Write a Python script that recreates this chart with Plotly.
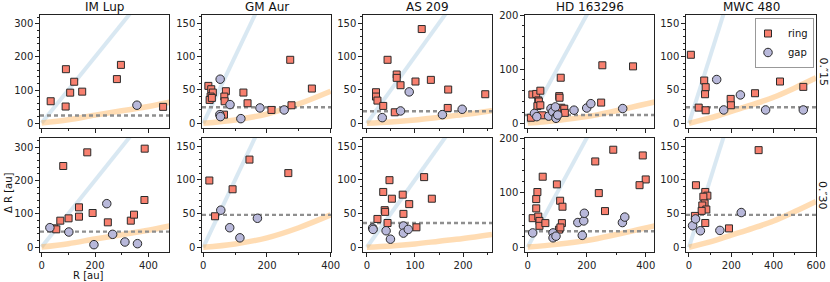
import plotly.graph_objects as go
from plotly.subplots import make_subplots

stars = ["IM Lup", "GM Aur", "AS 209", "HD 163296", "MWC 480"]
beam_labels = ["0.″15", "0.″30"]

# (R [au], Delta R [au])
imlup_015_ring = [(34, 66), (91, 163), (90, 50), (122, 125), (107, 92), (152, 95),
                  (282, 133), (297, 176), (455, 49)]
imlup_015_gap = [(357, 54)]
imlup_030_ring = [(81, 243), (171, 284), (386, 295), (70, 79), (101, 86), (140, 91),
                  (140, 119), (191, 102), (248, 74), (334, 79), (346, 97), (385, 141),
                  (47, 56), (55, 53)]
imlup_030_gap = [(31, 58), (102, 45), (244, 130), (266, 38), (196, 7), (312, 15), (359, 10)]

gmaur_015_ring = [(16, 56), (25, 51), (30, 46), (23, 40), (20, 35), (27, 38), (71, 48),
                  (66, 40), (67, 33), (65, 13), (126, 46), (139, 30), (273, 95),
                  (214, 20), (277, 27), (341, 52)]
gmaur_015_gap = [(53, 66), (52, 13), (54, 10), (84, 28), (118, 7), (178, 23), (254, 20)]
gmaur_030_ring = [(19, 99), (37, 46), (92, 86), (145, 130), (267, 110)]
gmaur_030_gap = [(55, 55), (83, 29), (115, 14), (170, 43)]

as209_015_ring = [(19, 46.5), (19, 40), (22, 34), (34, 26), (43, 95), (62, 73), (62, 68),
                  (70, 57), (58, 16.5), (101, 62.5), (114, 141), (133, 65), (169, 50.5),
                  (168, 23), (246, 43.5)]
as209_015_gap = [(32, 8.5), (70, 18.5), (88, 47), (157, 13), (198, 21)]
as209_030_ring = [(47, 99.5), (34, 82), (52, 72), (74.5, 78), (88, 64), (119, 104),
                  (135, 72), (37, 55), (38, 52.5), (76, 49.5), (22, 42), (43, 36), (103, 29.6)]
as209_030_gap = [(12, 28.6), (13, 26.5), (40, 24.5), (49, 12), (76, 31.6), (76, 21), (86, 26.5)]

hd_015_ring = [(11, 10), (16, 53), (29, 54), (43, 60), (36, 42), (38, 40), (33, 31.5),
               (43, 33), (49, 14.5), (112, 84), (107, 50), (108, 47), (114, 28.5),
               (124, 26.7), (126, 19), (249, 38), (253, 107), (357, 105)]
hd_015_gap = [(23, 18), (31, 12), (71, 13), (79, 27), (85, 21), (94, 30), (97, 12), (96, 9),
              (102, 15), (157, 24), (200, 28), (214, 36), (322, 27)]
hd_030_ring = [(290, 178.5), (229, 157), (390, 168), (400, 124), (379, 113.5), (241, 99),
               (262, 66), (51, 129), (99, 115), (110, 85), (118, 74), (33, 101), (29, 88),
               (29, 71), (17, 53), (36, 56), (40, 48), (40, 39), (60, 44), (116, 44),
               (106, 32), (111, 36)]
hd_030_gap = [(17, 26), (86, 26), (86, 17), (96, 20), (170, 45), (190, 48), (192, 62),
              (185, 21.5), (321, 45), (329, 55)]

mwc_015_ring = [(9, 102.5), (72, 64), (79, 54), (76, 43.5), (46, 23.5), (79, 19.5),
                (197, 36.5), (198, 27), (312, 45), (430, 62.5), (540, 54.5)]
mwc_015_gap = [(131, 65.5), (164, 20), (243, 42.5), (362, 20), (540, 20)]
mwc_030_ring = [(33, 92), (329, 144), (77, 82), (87, 76.5), (68, 75), (74, 65), (63, 62),
                (82, 56), (60, 54), (28, 46.5), (77, 36), (189, 28)]
mwc_030_gap = [(17, 32), (31, 42), (54, 24.5), (146, 25), (247, 51.5)]

# orange reference curve, read at a few radii
imlup_curve_R = [0, 100, 200, 300, 400, 480]
imlup_curve_dR = [0, 10, 24, 37, 50, 63]
gmaur_curve_R = [0, 100, 200, 300, 400]
gmaur_curve_dR = [0, 5, 14, 29, 48]
as209_curve_R = [0, 50, 100, 150, 200, 260]
as209_curve_dR = [0, 2, 5, 9, 13, 19]
hd_curve_R = [0, 100, 200, 300, 430]
hd_curve_dR = [0, 5, 12, 23, 39]
mwc_curve_R = [0, 100, 200, 300, 400, 500, 600]
mwc_curve_dR = [0, 8, 18, 28, 39, 53, 68]

# Delta R = R line
one_to_one = [0, 700]

# beam (resolution) level per star
res_015 = [23, 24, 18, 15, 24]
res_030 = [46, 48, 36, 29, 48]

ring_data = [[imlup_015_ring, gmaur_015_ring, as209_015_ring, hd_015_ring, mwc_015_ring],
             [imlup_030_ring, gmaur_030_ring, as209_030_ring, hd_030_ring, mwc_030_ring]]
gap_data = [[imlup_015_gap, gmaur_015_gap, as209_015_gap, hd_015_gap, mwc_015_gap],
            [imlup_030_gap, gmaur_030_gap, as209_030_gap, hd_030_gap, mwc_030_gap]]
curves = [(imlup_curve_R, imlup_curve_dR), (gmaur_curve_R, gmaur_curve_dR),
          (as209_curve_R, as209_curve_dR), (hd_curve_R, hd_curve_dR),
          (mwc_curve_R, mwc_curve_dR)]
res = [res_015, res_030]

# styling / layout
W, H = 830, 282
lefts = [40, 202, 363, 525, 686]
rights = [169, 331, 492, 654, 816]
tops = [15, 138]
bottoms = [128, 252]
xranges = [[-6, 477], [-4, 401], [-8, 260], [-9, 428], [-14, 600]]
yranges = [[-15, 327], [-7, 162], [-7, 162], [-9, 200], [-7, 162]]
xd = [200, 200, 100, 200, 200]
yd = [100, 50, 50, 100, 50]

FONT = "DejaVu Sans"
RING_COLOR = "#F8806F"
GAP_COLOR = "#B8B8DA"

fig = make_subplots(rows=2, cols=5)

first_ring = True
first_gap = True
for r in range(2):
    for c in range(5):
        row, col = r + 1, c + 1
        cr, cdr = curves[c]
        fig.add_trace(go.Scatter(x=one_to_one, y=one_to_one, mode="lines",
                                 line=dict(color="rgba(31,119,180,0.17)", width=4),
                                 showlegend=False, hoverinfo="skip"), row=row, col=col)
        fig.add_trace(go.Scatter(x=cr, y=cdr, mode="lines", line_shape="spline",
                                 line=dict(color="rgba(255,160,50,0.37)", width=5.5),
                                 showlegend=False, hoverinfo="skip"), row=row, col=col)
        fig.add_trace(go.Scatter(x=[xranges[c][0], xranges[c][1]], y=[res[r][c], res[r][c]],
                                 mode="lines",
                                 line=dict(color="#8f8f8f", width=2.4, dash="4px,3px"),
                                 showlegend=False, hoverinfo="skip"), row=row, col=col)
        rd = ring_data[r][c]
        fig.add_trace(go.Scatter(x=[p[0] for p in rd], y=[p[1] for p in rd], mode="markers",
                                 name="ring", legendgroup="ring", showlegend=first_ring,
                                 marker=dict(symbol="square", size=7, color=RING_COLOR,
                                             line=dict(color="#2a2a2a", width=1))),
                      row=row, col=col)
        first_ring = False
        gd = gap_data[r][c]
        fig.add_trace(go.Scatter(x=[p[0] for p in gd], y=[p[1] for p in gd], mode="markers",
                                 name="gap", legendgroup="gap", showlegend=first_gap,
                                 marker=dict(symbol="circle", size=8.5, color=GAP_COLOR,
                                             line=dict(color="#2a2a2a", width=1))),
                      row=row, col=col)
        first_gap = False

        idx = r * 5 + c + 1
        sfx = "" if idx == 1 else str(idx)
        fig.update_layout(**{
            "xaxis" + sfx: dict(
                domain=[lefts[c] / W, rights[c] / W], range=xranges[c], automargin=False,
                tickmode="linear", tick0=0, dtick=xd[c], showticklabels=(r == 1),
                ticks="outside", ticklen=3.5, tickwidth=1, tickcolor="#222",
                minor=dict(ticks="outside", ticklen=2, tickwidth=0.8, dtick=xd[c] / 2,
                           tick0=0, tickcolor="#222"),
                showline=True, linecolor="#222", linewidth=1.3, mirror=True,
                showgrid=False, zeroline=False,
                tickfont=dict(family=FONT, size=10, color="#222")),
            "yaxis" + sfx: dict(
                domain=[1 - bottoms[r] / H, 1 - tops[r] / H], range=yranges[c], automargin=False,
                tickmode="linear", tick0=0, dtick=yd[c],
                ticks="outside", ticklen=3.5, tickwidth=1, tickcolor="#222",
                minor=dict(ticks="outside", ticklen=2, tickwidth=0.8, dtick=yd[c] / 5,
                           tick0=0, tickcolor="#222"),
                showline=True, linecolor="#222", linewidth=1.3, mirror=True,
                showgrid=False, zeroline=False,
                tickfont=dict(family=FONT, size=10, color="#222")),
        })

annotations = []
for c, name in enumerate(stars):
    annotations.append(dict(text=name, x=(lefts[c] + rights[c]) / 2 / W, y=1 - 7.5 / H,
                            xref="paper", yref="paper", showarrow=False,
                            xanchor="center", yanchor="middle",
                            font=dict(family=FONT, size=12, color="#111")))
for r, lab in enumerate(beam_labels):
    annotations.append(dict(text=lab, x=823 / W, y=1 - ((tops[r] + bottoms[r]) / 2) / H,
                            xref="paper", yref="paper", showarrow=False, textangle=90,
                            xanchor="center", yanchor="middle",
                            font=dict(family=FONT, size=11, color="#111")))
annotations.append(dict(text="Δ R [au]", x=8 / W, y=1 - 193 / H, xref="paper", yref="paper",
                        showarrow=False, textangle=-90, xanchor="center", yanchor="middle",
                        font=dict(family=FONT, size=10, color="#111")))
annotations.append(dict(text="R [au]", x=88 / W, y=1 - 275 / H, xref="paper", yref="paper",
                        showarrow=False, xanchor="center", yanchor="middle",
                        font=dict(family=FONT, size=10, color="#111")))

fig.update_layout(
    width=W, height=H, margin=dict(l=0, r=0, t=0, b=0, autoexpand=False),
    paper_bgcolor="white", plot_bgcolor="white",
    font=dict(family=FONT, size=10, color="#111"),
    annotations=annotations,
    showlegend=True,
    legend=dict(x=814 / W, y=1 - 18 / H, xanchor="right", yanchor="top",
                bgcolor="white", bordercolor="#999", borderwidth=1,
                font=dict(family=FONT, size=10, color="#111"),
                itemwidth=30, tracegroupgap=0, indentation=-8),
)

fig.write_html("out.html",
               config={"displayModeBar": False},
               post_script="document.body.style.margin='0px';"
                           "document.body.style.overflow='hidden';")
